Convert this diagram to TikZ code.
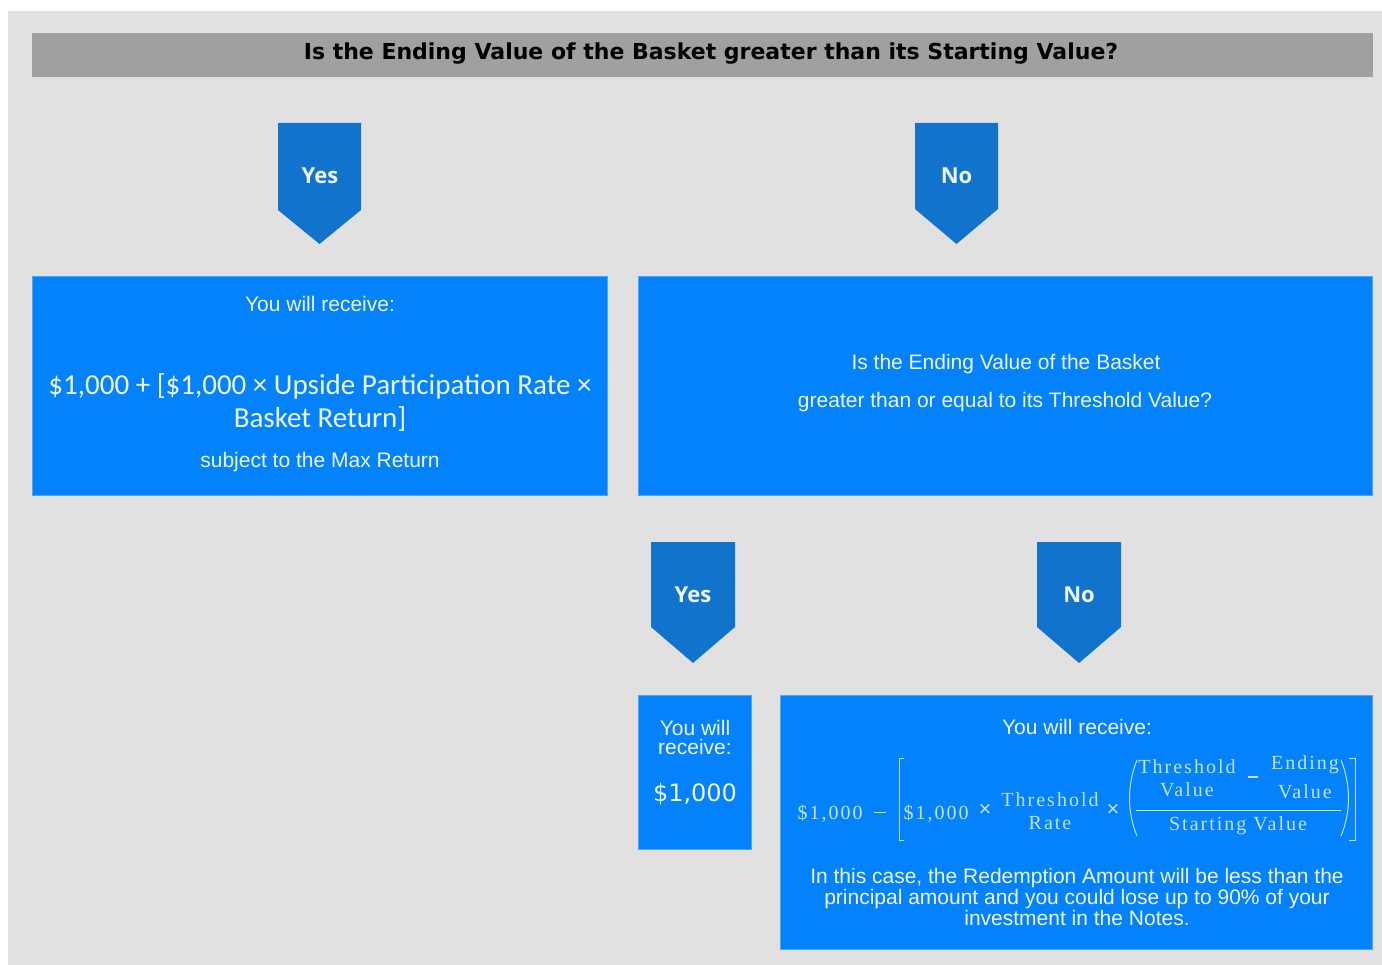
\documentclass[tikz,border=0pt]{standalone}
\usepackage{fontspec}
\setmainfont{Liberation Sans}
\newfontfamily\hdfont{DejaVu Sans}
\newfontfamily\calfont{Carlito}
\newfontfamily\osfont{Open Sans}
\newfontfamily\serfont[LetterSpace=10]{Liberation Serif}
\definecolor{bgc}{HTML}{E1E1E1}
\definecolor{hdc}{HTML}{A0A0A0}
\definecolor{boxblue}{HTML}{0482FC}
\definecolor{boxedge}{HTML}{4FA6F5}
\definecolor{tagblue}{HTML}{1273CC}
\definecolor{txtc}{HTML}{EEF6FF}
\definecolor{fmc}{HTML}{C4E2FF}
\newcommand{\tagshape}[5]{\fill[tagblue] (#1,#3) -- (#2,#3) -- (#2,#4) -- ({(#1+#2)/2},#5) -- (#1,#4) -- cycle;}
\begin{document}
\begin{tikzpicture}[x=1pt,y=-1pt,
  box/.style={fill=boxblue,draw=boxedge,line width=0.8pt},
  txt/.style={text=txtc,inner sep=0pt,font=\fontsize{21}{19}\selectfont,align=center},
  tagtxt/.style={text=txtc,inner sep=0pt,font=\osfont\bfseries\fontsize{22}{24}\selectfont},
  fm/.style={text=fmc,inner sep=0pt,font=\serfont\fontsize{20}{22}\selectfont},
  fmx/.style={text=fmc,inner sep=0pt,font=\fontsize{22}{22}\selectfont},
  fml/.style={draw=fmc,line width=1pt}]
\useasboundingbox (0,0) rectangle (1382,965);
\fill[white] (0,0) rectangle (1382,965);
\fill[bgc] (8,11) rectangle (1382,965);
% header
\fill[hdc] (32,33) rectangle (1373,77);
\node[inner sep=0pt,font=\hdfont\bfseries\fontsize{22}{24}\selectfont] (head) at (711,54) {Is the Ending Value of the Basket greater than its Starting Value?};
% pointers
\tagshape{278}{361}{123}{210}{244}
\node[tagtxt] (yes1) at (320,176) {Yes};
\tagshape{915}{998}{123}{209}{244}
\node[tagtxt] (no1) at (956.5,176) {No};
\tagshape{651}{735}{542}{627}{663}
\node[tagtxt] (yes2) at (693,595) {Yes};
\tagshape{1037}{1121}{542}{627}{663}
\node[tagtxt] (no2) at (1079,595) {No};
% boxes
\draw[box] (32,276) rectangle (607,495);
\draw[box] (638,276) rectangle (1372,495);
\draw[box] (638,695) rectangle (751,849);
\draw[box] (780,695) rectangle (1372,949);
% left box text
\node[txt] (l1) at (320,304) {You will receive:};
\node[txt,font=\calfont\fontsize{29}{33}\selectfont] (l2) at (320,386) {\$1,000 + [\$1,000 × Upside Participation Rate ×};
\node[txt,font=\calfont\fontsize{29}{33}\selectfont] (l3) at (320,419) {Basket Return]};
\node[txt] (l4) at (320,462) {subject to the Max Return};
% right box text
\node[txt] (r1) at (1006,364) {Is the Ending Value of the Basket};
\node[txt] (r2) at (1005,402) {greater than or equal to its Threshold Value?};
% small box
\node[txt] (s1) at (695,737) {You will\\receive:};
\node[txt,font=\hdfont\fontsize{24}{26}\selectfont] (s2) at (695,794) {\$1,000};
% big box
\node[txt] (b1) at (1077,727) {You will receive:};
\node[txt,font=\fontsize{21}{19}\selectfont] (b2) at (1077,897) {In this case, the Redemption Amount will be less than the\\principal amount and you could lose up to 90\% of your\\investment in the Notes.};
% formula
\node[fm] (f1) at (830,814) {\$1,000};
\coordinate (fm1a) at (874,812);
\coordinate (fm1b) at (886,812);
\node[fm] (f2) at (936,814) {\$1,000};
\node[fmx] (fx1) at (985,810) {×};
\node[fm] (fth1) at (1050,800) {Threshold};
\node[fm] (frate) at (1050,823) {Rate};
\node[fmx] (fx2) at (1113,810) {×};
\node[fm] (fth2) at (1187,767) {Threshold};
\node[fm] (fv1) at (1187,790) {Value};
\node[fm] (fend) at (1305,765) {Ending};
\node[fm] (fv2) at (1305,792) {Value};
\node[fm] (fsv) at (1238,826) {Starting Value};
% brackets, parens, bars
\draw[fml] (fm1a) -- (fm1b);
\draw[fml] (904,758) -- (899,758) -- (899,840) -- (904,840);
\draw[fml] (1349,758) -- (1355,758) -- (1355,840) -- (1349,840);
\draw[fml] (1137,760) .. controls (1127,785) and (1127,812) .. (1137,836);
\draw[fml] (1341,760) .. controls (1351,785) and (1351,812) .. (1341,836);
\draw[fml] (1136,810) -- (1341,810);
\draw[fml,line width=1.5pt] (1248,777) -- (1258,777);
\end{tikzpicture}
\end{document}
